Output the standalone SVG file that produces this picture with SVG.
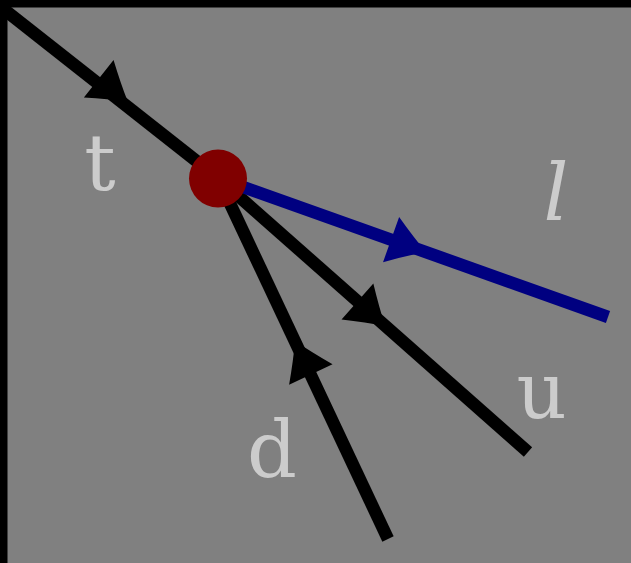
<svg xmlns="http://www.w3.org/2000/svg" width="631" height="563" viewBox="0 0 631 563">
  <style>
    .bg { fill: #000000; }
    .panel { fill: #808080; }
    .edge { fill: none; stroke-width: 12.5; stroke-linecap: butt; }
    .black { stroke: #000000; }
    .blue { stroke: #000080; }
    .ah-black { fill: #000000; }
    .ah-blue { fill: #000080; }
    .lbl { font-family: "DejaVu Serif", "Liberation Serif", serif; font-size: 78px; fill: #cccccc; text-anchor: middle; }
    .it { font-style: italic; }
  </style>
  <defs>
    <path id="arrow" d="M1,0 Q-16,-10 -36,-24 L-36,24 Q-16,10 1,0 Z"/>
  </defs>
  <rect class="bg" x="0" y="0" width="631" height="563"/>
  <rect class="panel" x="7.5" y="7.5" width="623.5" height="555.5"/>

  <g id="connectors">
    <g id="edge-t">
      <line class="edge black" x1="-6" y1="1.5" x2="218" y2="178"/>
      <use href="#arrow" class="ah-black" transform="translate(127,101) rotate(38.2)"/>
    </g>
    <g id="edge-u">
      <line class="edge black" x1="218" y1="178" x2="528" y2="452"/>
      <use href="#arrow" class="ah-black" transform="translate(384.4,325.3) rotate(41.5)"/>
    </g>
    <g id="edge-d">
      <line class="edge black" x1="388" y1="539" x2="218" y2="178"/>
      <use href="#arrow" class="ah-black" transform="translate(295.5,342) rotate(-115.2)"/>
    </g>
    <g id="edge-l">
      <line class="edge blue" x1="218" y1="178" x2="608" y2="317"/>
      <use href="#arrow" class="ah-blue" transform="translate(425,251.6) rotate(19.6)"/>
    </g>
  </g>

  <g id="vertex">
    <circle cx="218" cy="178.5" r="29" fill="#800000"/>
  </g>

  <g id="label-t"><text class="lbl" x="100" y="190">t</text></g>
  <g id="label-l"><text class="lbl it" x="556" y="220">l</text></g>
  <g id="label-u"><text class="lbl" x="541.5" y="418">u</text></g>
  <g id="label-d"><text class="lbl" x="272" y="477">d</text></g>
</svg>
